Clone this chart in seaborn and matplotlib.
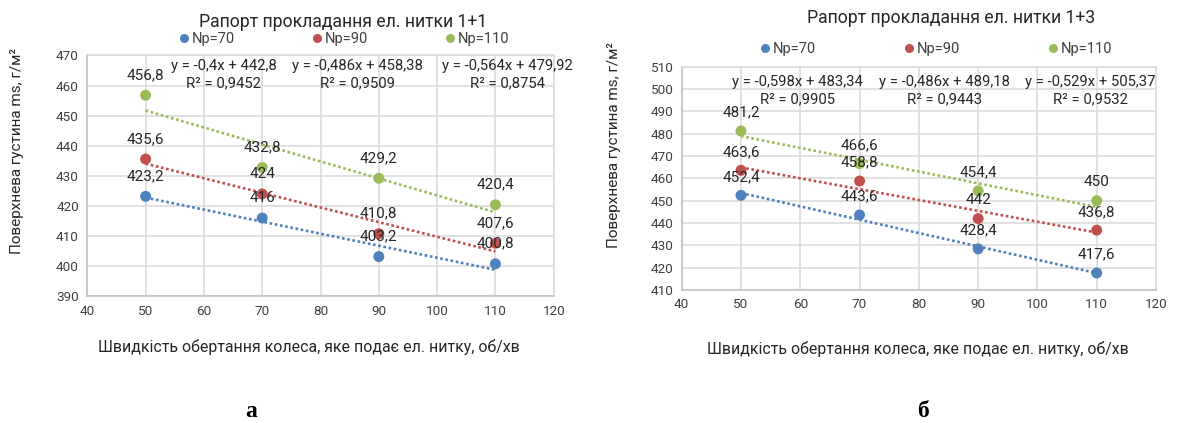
import numpy as np
import pandas as pd
import matplotlib
matplotlib.use("Agg")
import matplotlib.pyplot as plt
import seaborn as sns
from matplotlib.lines import Line2D

# ---------------- data ----------------
speed = [50, 70, 90, 110]
series_names = ["Np=70", "Np=90", "Np=110"]

a_np70 = [423.2, 416, 403.2, 400.8]
a_np90 = [435.6, 424, 410.8, 407.6]
a_np110 = [456.8, 432.8, 429.2, 420.4]

b_np70 = [452.4, 443.6, 428.4, 417.6]
b_np90 = [463.6, 458.8, 442, 436.8]
b_np110 = [481.2, 466.6, 454.4, 450]

title_a = "Рапорт прокладання ел. нитки 1+1"
title_b = "Рапорт прокладання ел. нитки 1+3"
xlabel_text = "Швидкість обертання колеса, яке подає ел. нитку, об/хв"
ylabel_text = "Поверхнева густина ms, г/м²"
xticks = [40, 50, 60, 70, 80, 90, 100, 110, 120]
yticks_a = [390, 400, 410, 420, 430, 440, 450, 460, 470]
yticks_b = [410, 420, 430, 440, 450, 460, 470, 480, 490, 500, 510]
panel_letters = ["а", "б"]

colors = ["#4F81BD", "#C0504D", "#9BBB59"]

# ---------------- style ----------------
sns.set_theme(style="white")
plt.rcParams["font.family"] = ["Roboto", "DejaVu Sans"]
TXT = "#404040"
GRID = "#d9d9d9"

W, H = 1177, 423
fig = plt.figure(figsize=(W / 100, H / 100), dpi=100)


def fx(px):
    return px / W


def fy(py):
    return 1 - py / H


def fmt(v, nd):
    s = "%g" % round(v, nd)
    return s.replace(".", ",")


def draw_panel(ax_rect, series, yticks, eq_xs, eq_y, lab_off, title,
               title_xy, legend_xy, colsp, xlabel_xy, ylabel_xy, letter,
               letter_xy):
    ax = fig.add_axes(ax_rect)
    df = pd.DataFrame({
        "speed": speed * len(series),
        "value": [v for s in series for v in s],
        "series": np.repeat(series_names, len(speed)),
    })
    sns.scatterplot(data=df, x="speed", y="value", hue="series",
                    hue_order=series_names, palette=colors, s=62,
                    edgecolor="none", linewidth=0, legend=False, ax=ax,
                    zorder=3)
    xs = np.array([speed[0], speed[-1]], dtype=float)
    for vals, col, ex in zip(series, colors, eq_xs):
        slope, icpt = np.polyfit(speed, vals, 1)
        ax.plot(xs, slope * xs + icpt, color=col, lw=1.9,
                ls=(0, (1, 1)), zorder=4)
        pred = slope * np.array(speed) + icpt
        yv = np.array(vals)
        r2 = 1 - np.sum((yv - pred) ** 2) / np.sum((yv - yv.mean()) ** 2)
        sign = "+" if icpt >= 0 else "-"
        eq = "y = %sx %s %s\nR² = %s" % (fmt(slope, 3), sign,
                                          fmt(abs(icpt), 2), fmt(r2, 4))
        ax.text(ex, eq_y, eq, ha="center", va="center", fontsize=10.7,
                color="#262626", linespacing=1.3, zorder=5)
        for x, v in zip(speed, vals):
            ax.annotate(fmt(v, 1), (x, v), xytext=(0, lab_off),
                        textcoords="offset points", ha="center",
                        va="center", fontsize=11, color="#262626",
                        zorder=5)
    ax.set_xlim(xticks[0], xticks[-1])
    ax.set_ylim(yticks[0], yticks[-1])
    ax.set_xticks(xticks)
    ax.set_yticks(yticks)
    ax.tick_params(axis="both", length=0, labelsize=9.7, colors=TXT, pad=6)
    ax.grid(True, color=GRID, lw=1.1)
    ax.set_axisbelow(True)
    for sp in ax.spines.values():
        sp.set_color(GRID)
        sp.set_linewidth(1.1)
    ax.spines["left"].set_color("#bfbfbf")
    ax.spines["bottom"].set_color("#bfbfbf")
    ax.set_xlabel("")
    ax.set_ylabel("")

    fig.text(fx(title_xy[0]), fy(title_xy[1]), title, ha="center",
             va="center", fontsize=12.7, color="#262626")
    handles = [Line2D([], [], marker="o", ls="", color=c, markersize=6.5,
                      markeredgewidth=0) for c in colors]
    fig.legend(handles, series_names, loc="center",
               bbox_to_anchor=(fx(legend_xy[0]), fy(legend_xy[1])),
               ncol=3, frameon=False, fontsize=10.5, handlelength=0.7,
               handletextpad=0.2, columnspacing=colsp, labelcolor=TXT,
               borderpad=0, borderaxespad=0)
    fig.text(fx(xlabel_xy[0]), fy(xlabel_xy[1]), xlabel_text, ha="center",
             va="center", fontsize=11.4, color="#262626")
    fig.text(fx(ylabel_xy[0]), fy(ylabel_xy[1]), ylabel_text, ha="center",
             va="center", rotation=90, fontsize=11, color="#262626")
    fig.text(fx(letter_xy[0]), fy(letter_xy[1]), letter, ha="center",
             va="center", fontsize=17, fontweight="bold",
             family="Liberation Serif", color="black")
    return ax


draw_panel([fx(87.3), fy(296.3), fx(553.7 - 87.3), (296.3 - 55.5) / H],
           [a_np70, a_np90, a_np110], yticks_a, [63.4, 86.4, 112.0], 463.5,
           14.5, title_a, (343, 21.7), (344, 39.3), 5.25, (309, 347),
           (17, 151), panel_letters[0], (251, 411))

draw_panel([fx(681.7), fy(290), fx(1156 - 681.7), (290 - 66.7) / H],
           [b_np70, b_np90, b_np110], yticks_b, [59.5, 84.4, 108.9], 499.4,
           13.2, title_b, (951, 18), (936, 49), 6.0, (918, 349), (614, 145),
           panel_letters[1], (923, 411))

fig.savefig("out.png", dpi=100)
